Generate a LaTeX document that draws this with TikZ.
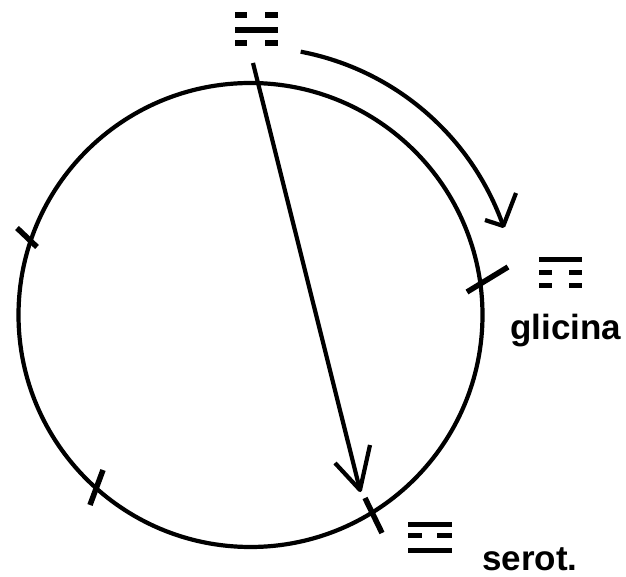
\documentclass[tikz,border=0pt]{standalone}
\usepackage{fontspec}
\setmainfont{Liberation Sans}
\begin{document}
\begin{tikzpicture}[x=1pt,y=1pt,
  ln/.style={line width=4.2pt,line join=round},
  tk/.style={line width=5.5pt},
  bar/.style={fill=black},
  lab/.style={anchor=base west,inner sep=0pt,font=\fontsize{35}{40}\selectfont\bfseries}]
\useasboundingbox (0,0) rectangle (626,576);
% circle
\coordinate (O) at (250.5,261);
\draw[ln] (O) circle[radius=232pt];
% chord arrow
\coordinate (cs) at (253,513);
\coordinate (ct) at (360,86);
\coordinate (ca1) at (335,113);
\coordinate (ca2) at (370,131);
\draw[ln] (cs) -- (ct);
\draw[ln] (ca1) -- (ct) -- (ca2);
% curved arrow
\coordinate (as) at (300.7,524.3);
\coordinate (at) at (503.3,350);
\coordinate (aa1) at (485,356);
\coordinate (aa2) at (516,383);
\draw[ln] (as) arc[start angle=79.2,end angle=19.4,radius=268pt];
\draw[ln] (aa1) -- (at) -- (aa2);
% ticks
\draw[tk] (17,348) -- (37,329);
\draw[tk] (103,106) -- (90,71);
\draw[tk] (365,78) -- (382,43);
\draw[tk] (467,284) -- (508,309);
% top trigram (broken, solid, broken)
\fill[bar] (235,557.5) rectangle (247,563.5);
\fill[bar] (265,557.5) rectangle (278,563.5);
\fill[bar] (235,543) rectangle (278,549);
\fill[bar] (235,529.5) rectangle (247,535.5);
\fill[bar] (265,529.5) rectangle (278,535.5);
% glicina trigram (solid, broken, broken)
\fill[bar] (539,314) rectangle (582,319);
\fill[bar] (539,301) rectangle (552,305.5);
\fill[bar] (569,301) rectangle (582,305.5);
\fill[bar] (539,288) rectangle (552,292.5);
\fill[bar] (569,288) rectangle (582,292.5);
% serot trigram (solid, broken, solid)
\fill[bar] (408,49) rectangle (452,54);
\fill[bar] (408,38) rectangle (422,43);
\fill[bar] (437,38) rectangle (452,43);
\fill[bar] (408,23) rectangle (452,28);
% labels
\node[lab] (glic) at (510,236) {glicina};
\node[lab] (ser) at (482,6) {serot.};
\end{tikzpicture}
\end{document}
